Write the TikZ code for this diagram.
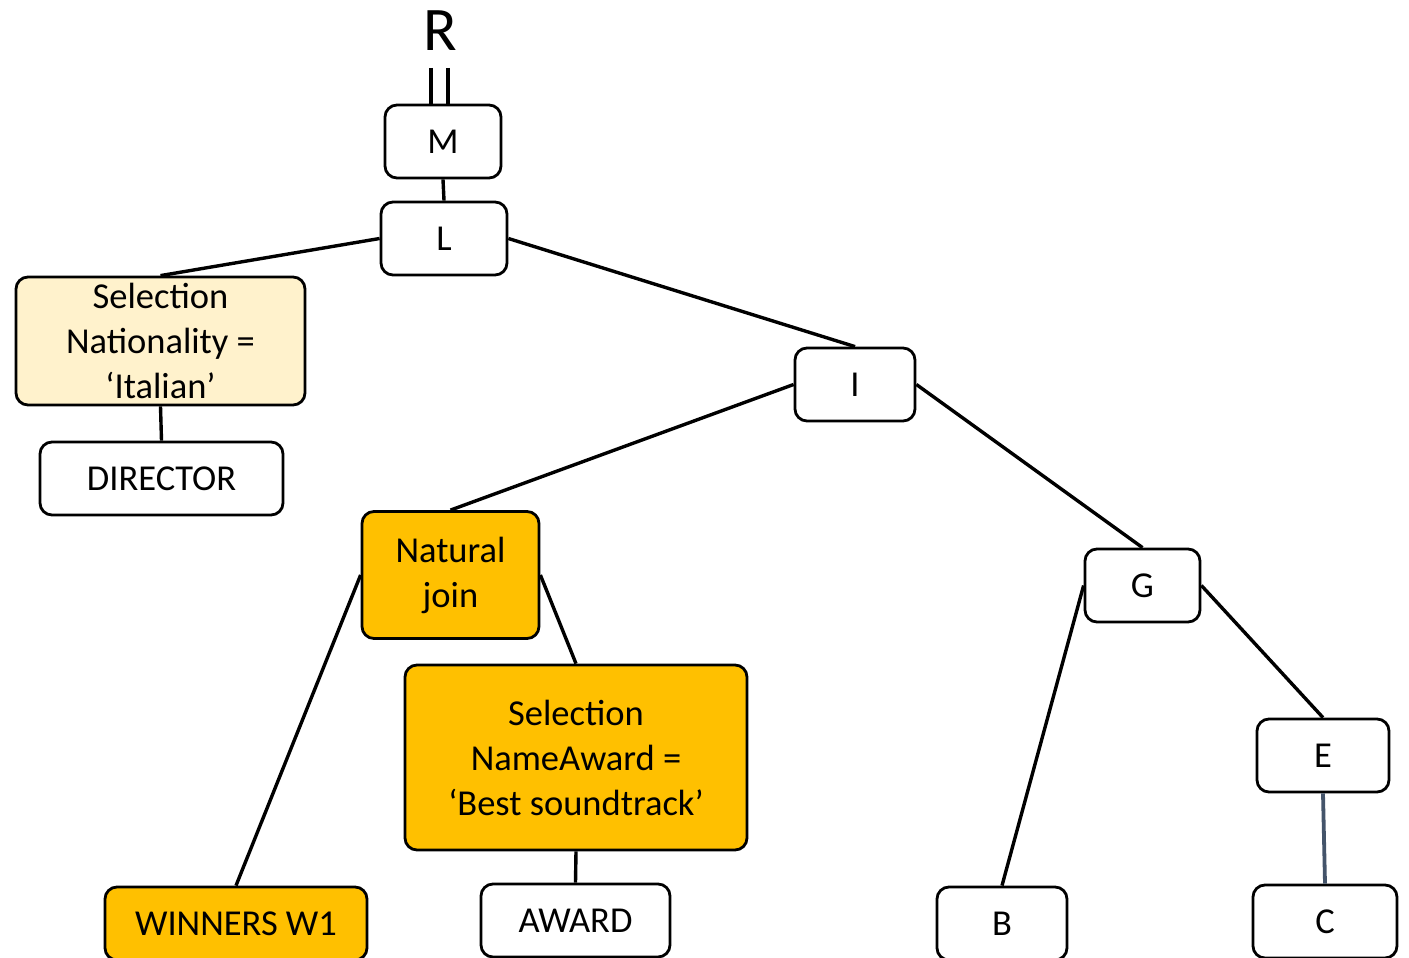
\documentclass[tikz,border=0pt]{standalone}
\usepackage{fontspec}
\setmainfont{Carlito}
\begin{document}
\begin{tikzpicture}[x=1pt,y=-1pt,
  box/.style={draw=black,line width=2.8pt,rounded corners=12pt,fill=white,
    inner sep=0pt,align=center,font=\fontsize{36.5}{45}\selectfont},
  pale/.style={box,fill=paleyellow},
  gold/.style={box,fill=goldfill},
  edge/.style={line width=3.4pt,black},
  dedge/.style={line width=3.8pt,slate}]
\definecolor{paleyellow}{HTML}{FFF2CC}
\definecolor{goldfill}{HTML}{FFC000}
\definecolor{slate}{HTML}{44546A}
\clip (0,0) rectangle (1409,958);
\fill[white] (0,0) rectangle (1409,958);
% nodes
\node[font=\fontsize{62}{62}\selectfont,inner sep=0pt] (R) at (440,31) {R};
\coordinate (r1a) at (431,68); \coordinate (r1b) at (431,105);
\coordinate (r2a) at (448,68); \coordinate (r2b) at (448,105);
\node[box,minimum width=116pt,minimum height=73pt] (M) at (443,141.5) {M};
\node[box,minimum width=126pt,minimum height=73pt] (L) at (444,238.5) {L};
\node[pale,minimum width=289pt,minimum height=128pt] (S1) at (160.5,341) {Selection\\Nationality =\\‘Italian’};
\node[box,minimum width=243pt,minimum height=73pt] (D) at (161.5,478.5) {DIRECTOR};
\node[box,minimum width=120pt,minimum height=73pt] (I) at (855,384.5) {I};
\node[gold,minimum width=177pt,minimum height=127pt] (NJ) at (450.5,575) {Natural\\join};
\node[gold,minimum width=342pt,minimum height=185pt] (S2) at (576,757.5) {Selection\\NameAward =\\‘Best soundtrack’};
\node[gold,minimum width=262pt,minimum height=73pt] (W) at (236,923.5) {WINNERS W1};
\node[box,minimum width=189pt,minimum height=73pt] (A) at (575.5,920.5) {AWARD};
\node[box,minimum width=115pt,minimum height=73pt] (G) at (1142.5,585.5) {G};
\node[box,minimum width=132pt,minimum height=73pt] (E) at (1323,755.5) {E};
\node[box,minimum width=130pt,minimum height=73pt] (B) at (1002,923.5) {B};
\node[box,minimum width=144pt,minimum height=73pt] (C) at (1325,921.5) {C};
% connectors
\draw[edge] (r1a) -- (r1b);
\draw[edge] (r2a) -- (r2b);
\draw[edge] (M.south) -- (L.north);
\draw[edge] (L.west) -- (S1.north);
\draw[edge] (L.east) -- (I.north);
\draw[edge] (S1.south) -- (D.north);
\draw[edge] (I.west) -- (NJ.north);
\draw[edge] (I.east) -- (G.north);
\draw[edge] (NJ.west) -- (W.north);
\draw[edge] (NJ.east) -- (S2.north);
\draw[edge] (S2.south) -- (A.north);
\draw[edge] (G.west) -- (B.north);
\draw[edge] (G.east) -- (E.north);
\draw[dedge] (E.south) -- (C.north);
\end{tikzpicture}
\end{document}
